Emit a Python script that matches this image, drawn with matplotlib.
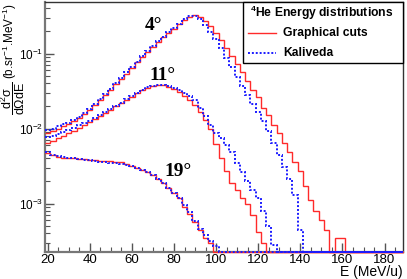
import numpy as np
import matplotlib
matplotlib.use("Agg")
import matplotlib.pyplot as plt
from matplotlib.patches import Rectangle
from matplotlib.lines import Line2D

plt.rcParams['font.family'] = ['Liberation Sans', 'DejaVu Sans']
plt.rcParams['mathtext.fontset'] = 'custom'
plt.rcParams['mathtext.rm'] = 'Liberation Sans'
plt.rcParams['mathtext.it'] = 'Liberation Sans'
plt.rcParams['mathtext.bf'] = 'Liberation Sans:bold'
plt.rcParams['mathtext.default'] = 'regular'

# ---- data: bin edges (2.5 MeV/u bins) and histogram contents ----
bin_edges = np.arange(18.75, 188.76, 2.5)   # 69 edges -> 68 bins, centres 20 ... 187.5

def pad(vals, n=68):
    return list(vals) + [0.0] * (n - len(vals))

# 4 degrees
deg4_cuts = pad([0.0088, 0.0093, 0.0100, 0.0108, 0.0115, 0.0125, 0.0138, 0.0155, 0.0177, 0.0205,
                 0.024, 0.028, 0.033, 0.039, 0.046, 0.054, 0.064, 0.076, 0.089, 0.105,
                 0.122, 0.142, 0.164, 0.188, 0.215, 0.245, 0.28, 0.31, 0.325, 0.31,
                 0.27, 0.23, 0.19, 0.15, 0.118, 0.092, 0.072, 0.056, 0.043, 0.033,
                 0.026, 0.019, 0.015, 0.011, 0.0088, 0.0065, 0.0049, 0.0036, 0.0027, 0.0017,
                 0.0011, 0.0008, 0.0006, 0.00045, 0.0, 0.00035, 0.00035])
deg4_kaliveda = pad([0.0097, 0.0100, 0.0108, 0.0115, 0.0120, 0.0128, 0.0142, 0.016, 0.0182, 0.021,
                     0.0245, 0.029, 0.034, 0.040, 0.047, 0.056, 0.066, 0.078, 0.092, 0.108,
                     0.126, 0.146, 0.168, 0.192, 0.22, 0.25, 0.285, 0.315, 0.32, 0.29,
                     0.24, 0.195, 0.155, 0.118, 0.088, 0.066, 0.049, 0.037, 0.028, 0.021,
                     0.0165, 0.0125, 0.0093, 0.0065, 0.0045, 0.0031, 0.0021, 0.0013, 0.00045])
# 11 degrees
deg11_cuts = pad([0.0064, 0.0068, 0.0074, 0.0080, 0.0087, 0.0094, 0.0102, 0.0111, 0.0121, 0.0132,
                  0.0145, 0.016, 0.0178, 0.0197, 0.0218, 0.024, 0.0265, 0.0295, 0.0325, 0.035,
                  0.0368, 0.0378, 0.0375, 0.036, 0.0335, 0.031, 0.0275, 0.024, 0.0205, 0.0165,
                  0.013, 0.0098, 0.0062, 0.0041, 0.0027, 0.0019, 0.0015, 0.0012, 0.0010, 0.0007,
                  0.00042, 0.0003])
deg11_kaliveda = pad([0.0076, 0.0080, 0.0085, 0.0090, 0.0096, 0.0102, 0.0110, 0.0118, 0.0127, 0.0138,
                      0.015, 0.0165, 0.0182, 0.020, 0.022, 0.0245, 0.027, 0.030, 0.033, 0.0355,
                      0.037, 0.038, 0.038, 0.037, 0.035, 0.033, 0.030, 0.027, 0.024, 0.019,
                      0.0148, 0.0112, 0.0088, 0.0074, 0.006, 0.0048, 0.0035, 0.0026, 0.002, 0.0015,
                      0.0012, 0.0008, 0.0005, 0.00028])
# 19 degrees
deg19_cuts = pad([0.0047, 0.0044, 0.0042, 0.0041, 0.0040, 0.0040, 0.0039, 0.0039, 0.0038, 0.0038,
                  0.0037, 0.0037, 0.0037, 0.0036, 0.0036, 0.0034, 0.0032, 0.0030, 0.0028, 0.0026,
                  0.0024, 0.0021, 0.0019, 0.0016, 0.0014, 0.0012, 0.0009, 0.00072, 0.00056, 0.00044,
                  0.00035, 0.0003])
deg19_kaliveda = pad([0.0048, 0.0045, 0.0043, 0.0042, 0.0041, 0.0040, 0.0039, 0.0038, 0.0038, 0.0037,
                      0.0036, 0.0036, 0.0035, 0.0035, 0.0034, 0.0033, 0.0032, 0.0030, 0.0028, 0.0026,
                      0.0024, 0.0021, 0.0019, 0.0016, 0.0014, 0.0012, 0.00095, 0.00076, 0.00058, 0.00046,
                      0.00038, 0.00032, 0.00027])

angle_labels = ["4°", "11°", "19°"]
legend_title = r"$^{4}$He Energy distributions"
legend_labels = ["Graphical cuts", "Kaliveda"]
x_ticks = [20, 40, 60, 80, 100, 120, 140, 160, 180]
y_ticks = [1e-3, 1e-2, 1e-1]
y_ticklabels = [r"$10^{-3}$", r"$10^{-2}$", r"$10^{-1}$"]
ylabel_frac = r"$\dfrac{d^{2}\sigma}{d\Omega dE}$"
ylabel_units = r"(b.sr$^{-1}$.MeV$^{-1}$)"

# ---- figure ----
W, H = 407, 279
fig = plt.figure(figsize=(W / 100, H / 100), dpi=100)
L, R, T, B = 45, 403, 2, 252
ax = fig.add_axes([L / W, (H - B) / H, (R - L) / W, (B - T) / H])

ymin, ymax = 2.26e-4, 0.486
ax.set_yscale('log')
ax.set_xlim(18.75, 188.75)
ax.set_ylim(ymin, ymax)

red = '#ff2a2a'
blue = '#1a1aff'
for cuts, kal in [(deg4_cuts, deg4_kaliveda), (deg11_cuts, deg11_kaliveda), (deg19_cuts, deg19_kaliveda)]:
    c = np.array(cuts); k = np.array(kal)
    c = np.where(c > 0, c, ymin); k = np.where(k > 0, k, ymin)
    ax.stairs(c, bin_edges, color=red, lw=1.0, zorder=3, baseline=None, clip_on=False)
    ax.stairs(k, bin_edges, color=blue, lw=1.4, ls=(0, (1, 1)), zorder=4, baseline=None, clip_on=False)

# axes styling
for s in ax.spines.values():
    s.set_color('#333333'); s.set_linewidth(1.0)
ax.spines['left'].set_color('#777777'); ax.spines['left'].set_linewidth(1.6)
ax.spines['bottom'].set_color('#777777'); ax.spines['bottom'].set_linewidth(1.6)

ax.set_xticks(x_ticks)
ax.set_xticks(np.arange(25, 188, 5), minor=True)
ax.set_xticklabels([str(t) for t in x_ticks], fontsize=9.5)
ax.set_yticks(y_ticks)
ax.set_yticklabels(y_ticklabels, fontsize=8.5)
ax.yaxis.set_minor_locator(matplotlib.ticker.LogLocator(base=10, subs=np.arange(2, 10)))
ax.yaxis.set_minor_formatter(matplotlib.ticker.NullFormatter())
ax.tick_params(which='both', direction='in', top=False, right=False, color='#555555')
ax.tick_params(which='major', length=6.5, width=1.0, pad=1.5)
ax.tick_params(which='minor', length=3.5, width=0.8)
ax.tick_params(axis='x', which='major', pad=1.5)

# axis titles
fig.text(403 / W, 1 - 276 / H, "E (MeV/u)", ha='right', va='baseline', fontsize=10)
units = fig.text(10 / W, 1 - 3 / H, ylabel_units, rotation=90, ha='center', va='top', fontsize=8.5)
fig.canvas.draw()
ub = units.get_window_extent(fig.canvas.get_renderer())
fig.text(13 / W, (ub.y0 - 3) / H, ylabel_frac, rotation=90, ha='center', va='top', fontsize=9)

# angle labels
for lab, (px, py) in zip(angle_labels, [(154, 26), (163, 76), (178, 172)]):
    ax.text((px - L) / (R - L), (B - py) / (B - T), lab, transform=ax.transAxes,
            ha='center', va='center', fontsize=14, fontweight='bold', family='Liberation Serif')

# legend box
lx0, lx1, ly0, ly1 = 243, 403, 2, 63
fig.patches.append(Rectangle((lx0 / W, 1 - ly1 / H), (lx1 - lx0) / W, (ly1 - ly0) / H,
                             transform=fig.transFigure, facecolor='white', edgecolor='black',
                             lw=1.0, zorder=5))
fig.text(322 / W, 1 - 13 / H, legend_title, ha='center', va='center', fontsize=8.7,
         fontweight='bold', zorder=6)
for lab, yy, col, ls, lw in [(legend_labels[0], 33, red, '-', 1.0), (legend_labels[1], 53, blue, (0, (1, 1)), 1.4)]:
    fig.lines.append(Line2D([248 / W, 276 / W], [1 - yy / H, 1 - yy / H], transform=fig.transFigure,
                            color=col, ls=ls, lw=lw, zorder=6))
    fig.text(283 / W, 1 - yy / H, lab, ha='left', va='center', fontsize=8.7, fontweight='bold', zorder=6)

fig.savefig("out.png", dpi=100)
